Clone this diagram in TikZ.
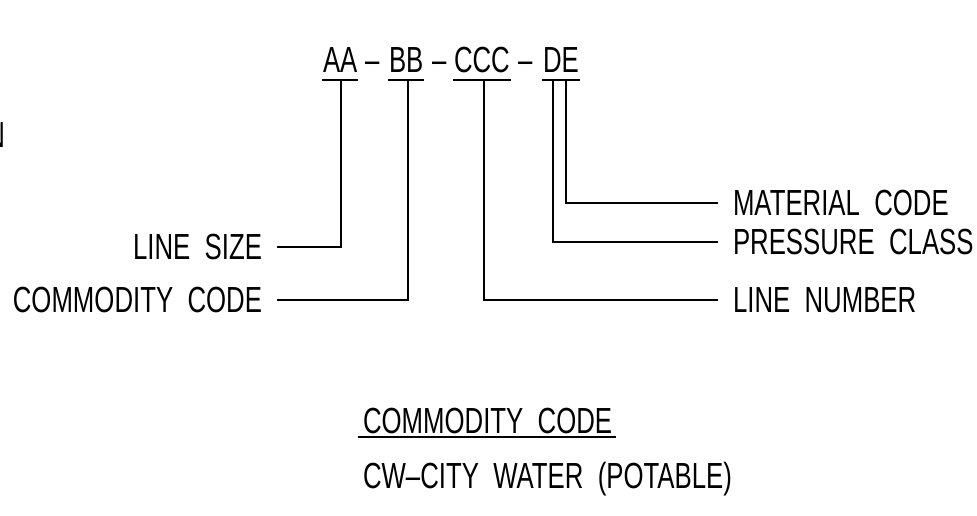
\documentclass[tikz,border=0pt]{standalone}
\usepackage{fontspec}
\setmainfont[FakeStretch=0.71,WordSpace=2]{Liberation Sans}
\usepackage{tikz}
\usetikzlibrary{positioning}

\begin{document}
\begin{tikzpicture}[x=1pt, y=-1pt, line width=2pt,
    every node/.style={font=\fontsize{36.3}{40}\selectfont, inner sep=0pt},
    code/.style={anchor=base west},
    lbl/.style={inner xsep=14pt, inner ysep=0pt}]
  \useasboundingbox (0,0) rectangle (977,515);
  % cut-off text at the left edge
  \node[anchor=base east] (cut) at (6,147) {N};
  % line code
  \node[code] (aa)  at (322,72) {AA};
  \node[code] (d1)  at (364,72) {\textendash};
  \node[code] (bb)  at (388,72) {BB};
  \node[code] (d2)  at (431,72) {\textendash};
  \node[code] (ccc) at (453,72) {CCC};
  \node[code] (d3)  at (517,72) {\textendash};
  \node[code] (de)  at (542,72) {DE};
  \draw ([yshift=-8pt]aa.base west)  -- ([yshift=-8pt]aa.base east);
  \draw ([yshift=-8pt]bb.base west)  -- ([yshift=-8pt]bb.base east);
  \draw ([yshift=-8pt]ccc.base west) -- ([yshift=-8pt]ccc.base east);
  \draw ([yshift=-8pt]de.base west)  -- ([yshift=-8pt]de.base east);
  \coordinate (tA) at (341,80);
  \coordinate (tB) at (408,80);
  \coordinate (tC) at (484,80);
  \coordinate (tD) at (553,80);
  \coordinate (tE) at (566,80);
  % labels
  \node[lbl, anchor=east] (lsize) at (277,247) {LINE SIZE};
  \node[lbl, anchor=east] (comm)  at (277,300) {COMMODITY CODE};
  \node[lbl, anchor=west] (mat)   at (718,203) {MATERIAL CODE};
  \node[lbl, anchor=west] (pres)  at (718,242) {PRESSURE CLASS};
  \node[lbl, anchor=west] (lnum)  at (718,300) {LINE NUMBER};
  \draw (tA) |- (lsize);
  \draw (tB) |- (comm);
  \draw (tC) |- (lnum);
  \draw (tD) |- (pres);
  \draw (tE) |- (mat);
  % legend
  \node[code] (cchead) at (362,433) {COMMODITY CODE};
  \draw ([xshift=-4pt,yshift=-4pt]cchead.base west) -- ([xshift=3pt,yshift=-4pt]cchead.base east);
  \node[code] (cw) at (362,488) {CW\textendash CITY WATER (POTABLE)};
\end{tikzpicture}
\end{document}
